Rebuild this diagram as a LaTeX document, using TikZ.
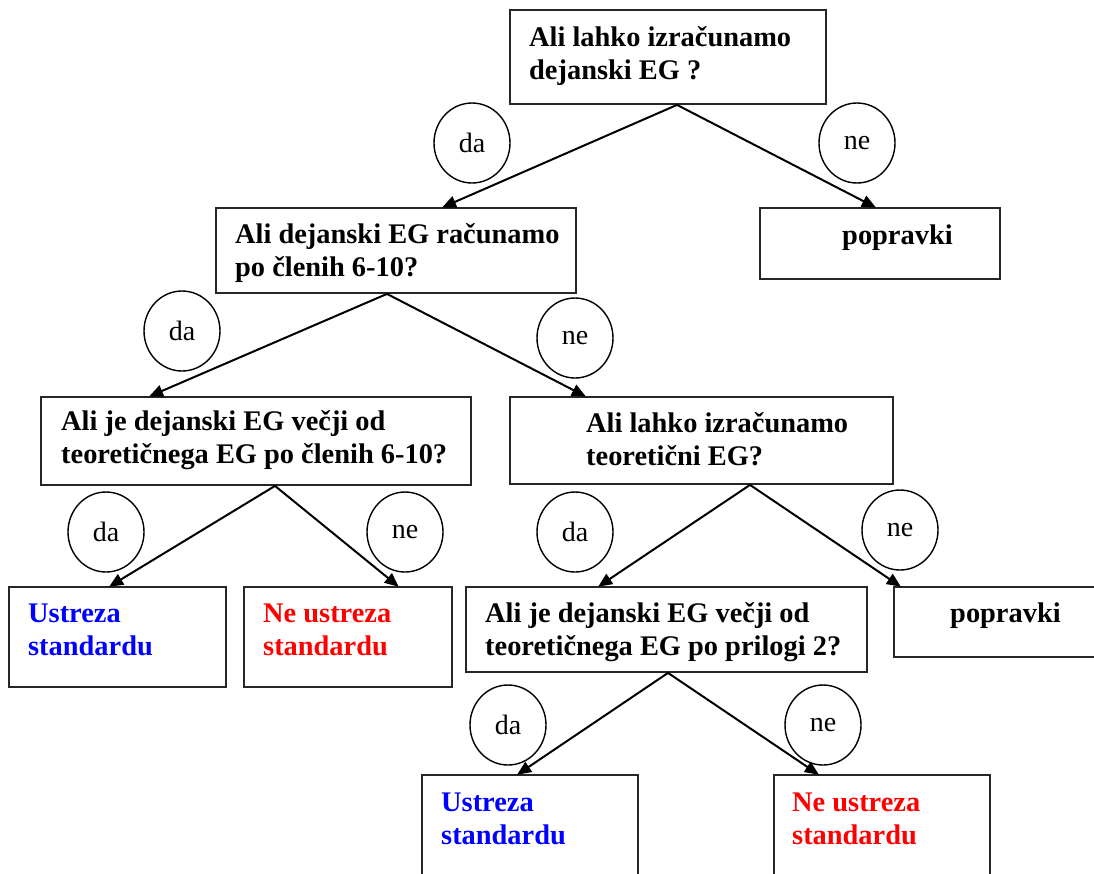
\documentclass[tikz,border=0pt]{standalone}
\usepackage{fontspec}
\setmainfont{Liberation Serif}
\usetikzlibrary{arrows.meta,shapes.geometric}
\newcommand{\twoln}[2]{\vtop{\hbox{#1}\hbox{#2}}}
\tikzset{
  box/.style={draw=black!85, line width=1.8pt, rectangle, inner sep=0pt},
  txt/.style={inner sep=0pt, anchor=base west, font=\fontsize{28.4}{33}\selectfont\bfseries},
  lbl/.style={draw=black, line width=1.4pt, ellipse, minimum width=76pt, minimum height=80pt, inner sep=0pt, font=\fontsize{28}{33}\selectfont},
  arr/.style={line width=2pt, -{Triangle[length=14pt,width=12pt]}, shorten >=-1pt},
}
\begin{document}
\begin{tikzpicture}[x=1pt,y=-1pt]
\useasboundingbox (0,0) rectangle (1094,873);
% boxes
\node[box, minimum width=316pt, minimum height=94pt] (A) at (668,57) {};
\node[box, minimum width=240pt, minimum height=71pt] (P1) at (880,243.5) {};
\node[box, minimum width=360pt, minimum height=85pt] (B) at (396,250.5) {};
\node[box, minimum width=430pt, minimum height=88pt] (C) at (256,441) {};
\node[box, minimum width=383pt, minimum height=87pt] (D) at (701.5,440.5) {};
\node[box, minimum width=217pt, minimum height=100pt] (E) at (117.5,637) {};
\node[box, minimum width=208pt, minimum height=100pt] (F) at (348,637) {};
\node[box, minimum width=401pt, minimum height=85pt] (G) at (666.5,629.5) {};
\node[box, minimum width=216pt, minimum height=70pt] (H) at (1002,622) {};
\node[box, minimum width=216pt, minimum height=105pt] (I) at (530,827.5) {};
\node[box, minimum width=216pt, minimum height=105pt] (J) at (882,827.5) {};
% texts
\node[txt] (At) at (529,46) {\twoln{Ali lahko izračunamo}{dejanski EG ?}};
\node[txt] (P1t) at (842,244) {popravki};
\node[txt] (Bt) at (235,243) {\twoln{Ali dejanski EG računamo}{po členih 6-10?}};
\node[txt] (Ct) at (61,430) {\twoln{Ali je dejanski EG večji od}{teoretičnega EG po členih 6-10?}};
\node[txt] (Dt) at (586,432) {\twoln{Ali lahko izračunamo}{teoretični EG?}};
\node[txt, text=blue] (Et) at (28,622) {\twoln{Ustreza}{standardu}};
\node[txt, text=red] (Ft) at (263,622) {\twoln{Ne ustreza}{standardu}};
\node[txt] (Gt) at (485,622) {\twoln{Ali je dejanski EG večji od}{teoretičnega EG po prilogi 2?}};
\node[txt] (Ht) at (950,622) {popravki};
\node[txt, text=blue] (It) at (441,811) {\twoln{Ustreza}{standardu}};
\node[txt, text=red] (Jt) at (792,811) {\twoln{Ne ustreza}{standardu}};
% labels
\node[lbl] (c1) at (472,143) {da};
\node[lbl] (c2) at (857,143) {ne};
\node[lbl] (c3) at (182,331) {da};
\node[lbl] (c4) at (575,338) {ne};
\node[lbl] (c5) at (106,532) {da};
\node[lbl] (c6) at (405,532) {ne};
\node[lbl] (c7) at (575,532) {da};
\node[lbl] (c8) at (900,530) {ne};
\node[lbl] (c9) at (508,725) {da};
\node[lbl] (c10) at (823,725) {ne};
% connectors
\draw[arr] ([xshift=9pt]A.south) -- ([xshift=47pt]B.north);
\draw[arr] ([xshift=9pt]A.south) -- ([xshift=-5pt]P1.north);
\draw[arr] ([xshift=-9pt]B.south) -- ([xshift=-106pt]C.north);
\draw[arr] ([xshift=-9pt]B.south) -- ([xshift=-116.5pt]D.north);
\draw[arr] ([xshift=19pt]C.south) -- ([xshift=-7.5pt]E.north);
\draw[arr] ([xshift=19pt]C.south) -- ([xshift=50pt]F.north);
\draw[arr] ([xshift=48.5pt]D.south) -- ([xshift=-67.5pt]G.north);
\draw[arr] ([xshift=48.5pt]D.south) -- ([xshift=-102pt]H.north);
\draw[arr] ([xshift=1.5pt]G.south) -- ([xshift=-12pt]I.north);
\draw[arr] ([xshift=1.5pt]G.south) -- ([xshift=-64pt]J.north);
\end{tikzpicture}
\end{document}
